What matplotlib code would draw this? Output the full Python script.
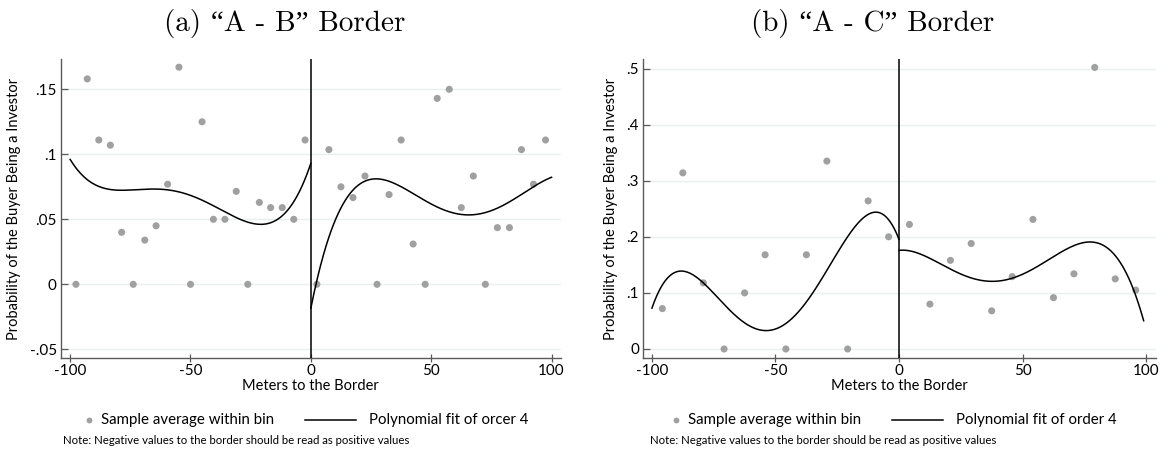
import numpy as np
import matplotlib
matplotlib.use("Agg")
import matplotlib.pyplot as plt
from matplotlib.lines import Line2D

plt.rcParams["font.family"] = ["Lato", "DejaVu Sans"]
plt.rcParams["axes.unicode_minus"] = False

# ---------------- Panel (a): "A - B" border ----------------
a_left_x = [-97.6, -92.9, -88.1, -83.3, -78.6, -73.8, -69.0, -64.3, -59.5, -54.8, -50.0,
            -45.2, -40.5, -35.7, -31.0, -26.2, -21.4, -16.7, -11.9, -7.1, -2.4]
a_left_y = [0.0, 0.158, 0.111, 0.107, 0.040, 0.0, 0.034, 0.045, 0.077, 0.167, 0.0,
            0.125, 0.050, 0.050, 0.0715, 0.0, 0.063, 0.059, 0.059, 0.050, 0.111]
a_right_x = [2.5, 7.5, 12.5, 17.5, 22.5, 27.5, 32.5, 37.5, 42.5, 47.5,
             52.5, 57.5, 62.5, 67.5, 72.5, 77.5, 82.5, 87.5, 92.5, 97.5]
a_right_y = [0.0, 0.1036, 0.075, 0.0667, 0.0833, 0.0, 0.069, 0.111, 0.031, 0.0,
             0.143, 0.150, 0.059, 0.0833, 0.0, 0.0436, 0.0436, 0.1036, 0.077, 0.111]

# fitted curve, read at sample positions
a_fit_left_x = [-99.6, -93.0, -87.5, -79.2, -66.8, -59.8, -50.0, -39.0, -29.4, -20.4, -11.4, -4.4, 0.0]
a_fit_left_y = [0.0954, 0.080, 0.0746, 0.0725, 0.0733, 0.0733, 0.0687, 0.0585, 0.0495, 0.0456, 0.0546, 0.0733, 0.0923]
a_fit_right_x = [0.0, 2.5, 6.6, 12.2, 19.1, 28.1, 37.1, 49.6, 60.7, 67.6, 74.5, 85.6, 100.0]
a_fit_right_y = [-0.0198, 0.0033, 0.034, 0.057, 0.0738, 0.0812, 0.0756, 0.0623, 0.0551, 0.0536, 0.0551, 0.0674, 0.0823]
a_fit_span = [(-100, 0), (0, 100)]

a_yticks = [-0.05, 0.0, 0.05, 0.10, 0.15]
a_yticklabels = ["-.05", "0", ".05", ".1", ".15"]

# ---------------- Panel (b): "A - C" border ----------------
b_left_x = [-95.8, -87.5, -79.2, -70.8, -62.5, -54.2, -45.8, -37.5, -29.2, -20.8, -12.5, -4.2]
b_left_y = [0.072, 0.314, 0.118, 0.0, 0.100, 0.168, 0.0, 0.168, 0.335, 0.0, 0.264, 0.200]
b_right_x = [4.2, 12.5, 20.8, 29.2, 37.5, 45.8, 54.2, 62.5, 70.8, 79.2, 87.5, 95.8]
b_right_y = [0.222, 0.080, 0.158, 0.188, 0.068, 0.129, 0.231, 0.0915, 0.134, 0.502, 0.125, 0.105]

b_fit_left_x = [-100.0, -96.1, -91.4, -88.0, -81.9, -71.1, -61.7, -53.6, -45.5, -36.0, -25.2, -17.1, -9.7, -3.6, 0.0]
b_fit_left_y = [0.0743, 0.111, 0.1337, 0.1378, 0.129, 0.0814, 0.047, 0.032, 0.0428, 0.093, 0.1717, 0.224, 0.2418, 0.225, 0.197]
b_fit_right_x = [0.0, 5.8, 19.3, 30.1, 38.2, 49.0, 59.8, 69.2, 76.6, 84.1, 92.2, 98.9]
b_fit_right_y = [0.1747, 0.1747, 0.1467, 0.126, 0.1188, 0.129, 0.1586, 0.1836, 0.1925, 0.1795, 0.129, 0.0547]
b_fit_span = [(-100, 0), (0, 99)]

b_yticks = [0.0, 0.1, 0.2, 0.3, 0.4, 0.5]
b_yticklabels = ["0", ".1", ".2", ".3", ".4", ".5"]

xticks = [-100, -50, 0, 50, 100]
xticklabels = ["-100", "-50", "0", "50", "100"]

POINT_COLOR = "#a0a0a0"
GRID_COLOR = "#e8f0f2"
AXIS_COLOR = "#5a5a5a"

W, H = 1163, 453
fig = plt.figure(figsize=(W / 100, H / 100), dpi=100)
fig.patch.set_facecolor("white")


def px_axes(x0, x1, ytop, ybot):
    return fig.add_axes([x0 / W, 1 - ybot / H, (x1 - x0) / W, (ybot - ytop) / H])


def quartic_curve(xs, ys, lo, hi):
    coef = np.polyfit(xs, ys, 4)
    xx = np.linspace(lo, hi, 300)
    return xx, np.polyval(coef, xx)


def draw_panel(ax, lx, ly, rx, ry, flx, fly, frx, fry, span, yticks, ylabels, xlim, ylim):
    ax.set_xlim(*xlim)
    ax.set_ylim(*ylim)
    for y in yticks:
        ax.axhline(y, color=GRID_COLOR, lw=1.0, zorder=0)
    ax.scatter(lx + rx, ly + ry, s=26, color=POINT_COLOR, edgecolors="none", zorder=3)
    xx, yy = quartic_curve(flx, fly, *span[0])
    ax.plot(xx, yy, color="black", lw=1.1, zorder=4)
    xx, yy = quartic_curve(frx, fry, *span[1])
    ax.plot(xx, yy, color="black", lw=1.1, zorder=4)
    ax.axvline(0, color="black", lw=1.1, zorder=5)
    for side in ("top", "right"):
        ax.spines[side].set_visible(False)
    for side in ("left", "bottom"):
        ax.spines[side].set_color(AXIS_COLOR)
        ax.spines[side].set_linewidth(1.0)
    ax.set_yticks(yticks)
    ax.set_yticklabels(ylabels)
    ax.set_xticks(xticks)
    ax.set_xticklabels(xticklabels)
    ax.tick_params(axis="y", direction="in", length=5, width=0.9, color=AXIS_COLOR,
                   labelsize=11, pad=3)
    ax.tick_params(axis="x", direction="inout", length=6, width=0.9, color=AXIS_COLOR,
                   labelsize=11, pad=1)
    ax.set_xlabel("Meters to the Border", fontsize=10.5, labelpad=1)
    ax.set_ylabel("Probability of the Buyer Being a Investor", fontsize=10.5, labelpad=6)


ax1 = px_axes(61, 560.7, 59, 358.3)
draw_panel(ax1, a_left_x, a_left_y, a_right_x, a_right_y,
           a_fit_left_x, a_fit_left_y, a_fit_right_x, a_fit_right_y, a_fit_span,
           a_yticks, a_yticklabels, (-103.8, 103.8), (-0.0569, 0.1733))

ax2 = px_axes(643.3, 1156, 59, 358.3)
draw_panel(ax2, b_left_x, b_left_y, b_right_x, b_right_y,
           b_fit_left_x, b_fit_left_y, b_fit_right_x, b_fit_right_y, b_fit_span,
           b_yticks, b_yticklabels, (-103.5, 104.0), (-0.0166, 0.517))

title_font = ["cmr10", "Liberation Serif"]
fig.text(285 / W, 1 - 24 / H, "(a) \u201cA - B\u201d Border", ha="center", va="center",
         fontsize=21, family=title_font)
fig.text(873 / W, 1 - 24 / H, "(b) \u201cA - C\u201d Border", ha="center", va="center",
         fontsize=21, family=title_font)


def legend_row(dx, label2):
    y = 1 - 420 / H
    fig.add_artist(Line2D([(89 + dx) / W], [y], marker="o", markersize=4.2, color=POINT_COLOR,
                          markeredgewidth=0, linestyle="none", transform=fig.transFigure))
    fig.text((101 + dx) / W, y, "Sample average within bin", ha="left", va="center",
             fontsize=10.8)
    fig.add_artist(Line2D([(305 + dx) / W, (356 + dx) / W], [y, y], color="black", lw=1.1,
                          transform=fig.transFigure))
    fig.text((369 + dx) / W, y, label2, ha="left", va="center", fontsize=10.8)
    fig.text((63 + dx) / W, 1 - 440 / H,
             "Note: Negative values to the border should be read as positive values",
             ha="left", va="center", fontsize=8.2)


legend_row(0, "Polynomial fit of orcer 4")
legend_row(587, "Polynomial fit of order 4")

fig.savefig("out.png", dpi=100, facecolor="white")
